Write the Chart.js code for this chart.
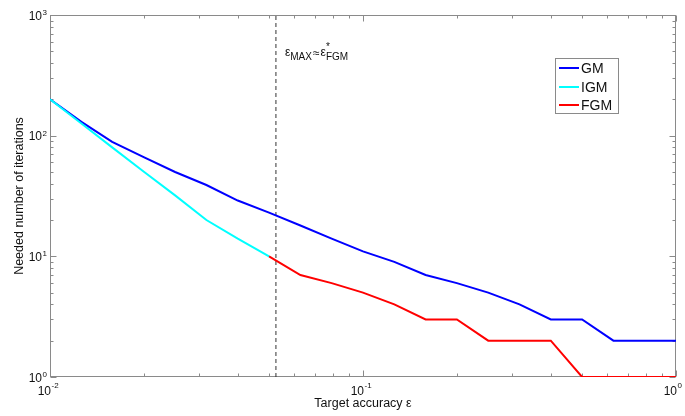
<!DOCTYPE html>
<html>
<head>
<meta charset="utf-8">
<script src="https://cdn.jsdelivr.net/npm/chart.js@4.4.0/dist/chart.umd.min.js"></script>
<style>
  html, body { margin: 0; padding: 0; background: #fff; }
  #wrap { width: 685px; height: 416px; }
</style>
</head>
<body>
<div id="wrap"><canvas id="chart" width="685" height="416"></canvas></div>
<script>
// Target accuracy (x), ten steps per decade
const accuracy = [0.01, 0.0126, 0.0158, 0.02, 0.0251, 0.0316, 0.0398, 0.0501, 0.0631, 0.0794,
    0.1, 0.1259, 0.1585, 0.1995, 0.2512, 0.3162, 0.3981, 0.5012, 0.631, 0.7943, 1];

// Needed number of iterations
const gmIters = [200, 130, 89, 66, 50, 39, 29, 23, 18, 14, 11, 9, 7, 6, 5, 4, 3, 3, 2, 2, 2];
const igmAccuracy = [0.01, 0.0126, 0.0158, 0.02, 0.0251, 0.0316, 0.0398, 0.0501];
const igmIters = [200, 126, 80, 50, 32, 20, 14, 10];
const fgmAccuracy = [0.0501, 0.0631, 0.0794, 0.1, 0.1259, 0.1585, 0.1995, 0.2512, 0.3162,
    0.3981, 0.5012, 0.631, 0.7943, 1];
const fgmIters = [10, 7, 6, 5, 4, 3, 3, 2, 2, 2, 1, 1, 1, 1];

// Switching point eps_MAX (dashed line)
const epsMax = 0.0527;

// Tick labels (powers of ten)
const xTickExps = [-2, -1, 0];
const yTickExps = [0, 1, 2, 3];

const FONT = 'Arial, "Liberation Sans", Helvetica, sans-serif';

function toPoints(xs, ys) {
    return xs.map((x, i) => ({ x: x, y: ys[i] }));
}

// Draw MATLAB-like box axes, inward ticks and 10^n labels
const matlabAxes = {
    id: 'matlabAxes',
    beforeDatasetsDraw(chart) {
        const { ctx, chartArea: a, scales: { x, y } } = chart;
        const L = Math.round(a.left) + 0.5, R = Math.round(a.right) - 0.5;
        const T = Math.round(a.top) + 0.5, B = Math.round(a.bottom) - 0.5;
        ctx.save();
        ctx.strokeStyle = '#8a8a8a';
        ctx.lineWidth = 1;
        ctx.strokeRect(L, T, R - L, B - T);

        ctx.beginPath();
        // x ticks (bottom and top)
        for (let e = xTickExps[0]; e < xTickExps[xTickExps.length - 1] + 1; e++) {
            for (let m = 1; m <= 9; m++) {
                const v = m * Math.pow(10, e);
                if (v < x.min - 1e-12 || v > x.max + 1e-12) continue;
                const px = Math.round(x.getPixelForValue(v)) + 0.5;
                const len = m === 1 ? 6 : 3;
                ctx.moveTo(px, B); ctx.lineTo(px, B - len);
                ctx.moveTo(px, T); ctx.lineTo(px, T + len);
            }
        }
        // y ticks (left and right)
        for (let e = yTickExps[0]; e < yTickExps[yTickExps.length - 1] + 1; e++) {
            for (let m = 1; m <= 9; m++) {
                const v = m * Math.pow(10, e);
                if (v < y.min - 1e-12 || v > y.max + 1e-12) continue;
                const py = Math.round(y.getPixelForValue(v)) + 0.5;
                const len = m === 1 ? 6 : 3;
                ctx.moveTo(L, py); ctx.lineTo(L + len, py);
                ctx.moveTo(R, py); ctx.lineTo(R - len, py);
            }
        }
        ctx.stroke();

        ctx.fillStyle = '#111';
        ctx.textBaseline = 'alphabetic';
        // y tick labels
        yTickExps.forEach(e => {
            const py = y.getPixelForValue(Math.pow(10, e));
            ctx.font = '12px ' + FONT;
            ctx.textAlign = 'right';
            ctx.fillText('10', a.left - 8, py + 4.5);
            ctx.font = '8px ' + FONT;
            ctx.textAlign = 'left';
            ctx.fillText(String(e), a.left - 7.5, py);
        });
        // x tick labels
        xTickExps.forEach(e => {
            const px = x.getPixelForValue(Math.pow(10, e));
            ctx.font = '12px ' + FONT;
            ctx.textAlign = 'right';
            ctx.fillText('10', px + 1, a.bottom + 18);
            ctx.font = '8px ' + FONT;
            ctx.textAlign = 'left';
            ctx.fillText(String(e), px + 1.5, a.bottom + 11);
        });

        // axis titles
        ctx.font = '12.5px ' + FONT;
        ctx.textAlign = 'center';
        ctx.fillText('Target accuracy ε', (a.left + a.right) / 2, a.bottom + 30);
        ctx.save();
        ctx.translate(23, (a.top + a.bottom) / 2);
        ctx.rotate(-Math.PI / 2);
        ctx.fillText('Needed number of iterations', 0, 0);
        ctx.restore();
        ctx.restore();
    },
    afterDatasetsDraw(chart) {
        const { ctx, scales: { x } } = chart;
        ctx.save();
        // annotation next to the dashed line
        ctx.fillStyle = '#111';
        ctx.textAlign = 'left';
        ctx.textBaseline = 'alphabetic';
        let cx = x.getPixelForValue(epsMax) + 9;
        const put = (txt, size, base) => {
            ctx.font = size + 'px ' + FONT;
            ctx.fillText(txt, cx, base);
            return ctx.measureText(txt).width;
        };
        cx += put('ε', 12, 56);
        cx += put('MAX', 10, 60) + 1;
        cx += put('≈', 12, 57) + 1;
        cx += put('ε', 12, 56);
        put('*', 10, 50);
        put('FGM', 10, 60);

        // legend box
        const box = { x: 555.5, y: 58.5, w: 63, h: 55 };
        ctx.fillStyle = '#fff';
        ctx.fillRect(box.x, box.y, box.w, box.h);
        ctx.strokeStyle = '#8a8a8a';
        ctx.lineWidth = 1;
        ctx.strokeRect(box.x, box.y, box.w, box.h);
        const rows = [68, 87, 105];
        chart.data.datasets.slice(0, 3).forEach((ds, i) => {
            const ry = rows[i];
            ctx.strokeStyle = ds.borderColor;
            ctx.lineWidth = 2;
            ctx.beginPath();
            ctx.moveTo(559, ry);
            ctx.lineTo(579, ry);
            ctx.stroke();
            ctx.fillStyle = '#111';
            ctx.font = '14px ' + FONT;
            ctx.fillText(ds.label, 581, ry + 5);
        });
        ctx.restore();
    }
};

const ctx = document.querySelector('#chart').getContext('2d');
new Chart(ctx, {
    type: 'line',
    data: {
        datasets: [
            { label: 'GM', data: toPoints(accuracy, gmIters), borderColor: '#0000ff', borderWidth: 2, order: 3 },
            { label: 'IGM', data: toPoints(igmAccuracy, igmIters), borderColor: '#00ffff', borderWidth: 2, order: 2 },
            { label: 'FGM', data: toPoints(fgmAccuracy, fgmIters), borderColor: '#ff0000', borderWidth: 2, order: 1 },
            { label: 'epsMax', data: [{ x: epsMax, y: 1 }, { x: epsMax, y: 1000 }],
              borderColor: '#333', borderWidth: 1, borderDash: [4, 3], order: 4 }
        ]
    },
    options: {
        responsive: false,
        animation: false,
        elements: { point: { radius: 0 }, line: { tension: 0, fill: false } },
        layout: { padding: { left: 50, right: 9, top: 15, bottom: 39 } },
        plugins: { legend: { display: false }, tooltip: { enabled: false } },
        scales: {
            x: { type: 'logarithmic', min: 0.01, max: 1, display: false },
            y: { type: 'logarithmic', min: 1, max: 1000, display: false }
        }
    },
    plugins: [matlabAxes]
});
</script>
</body>
</html>
